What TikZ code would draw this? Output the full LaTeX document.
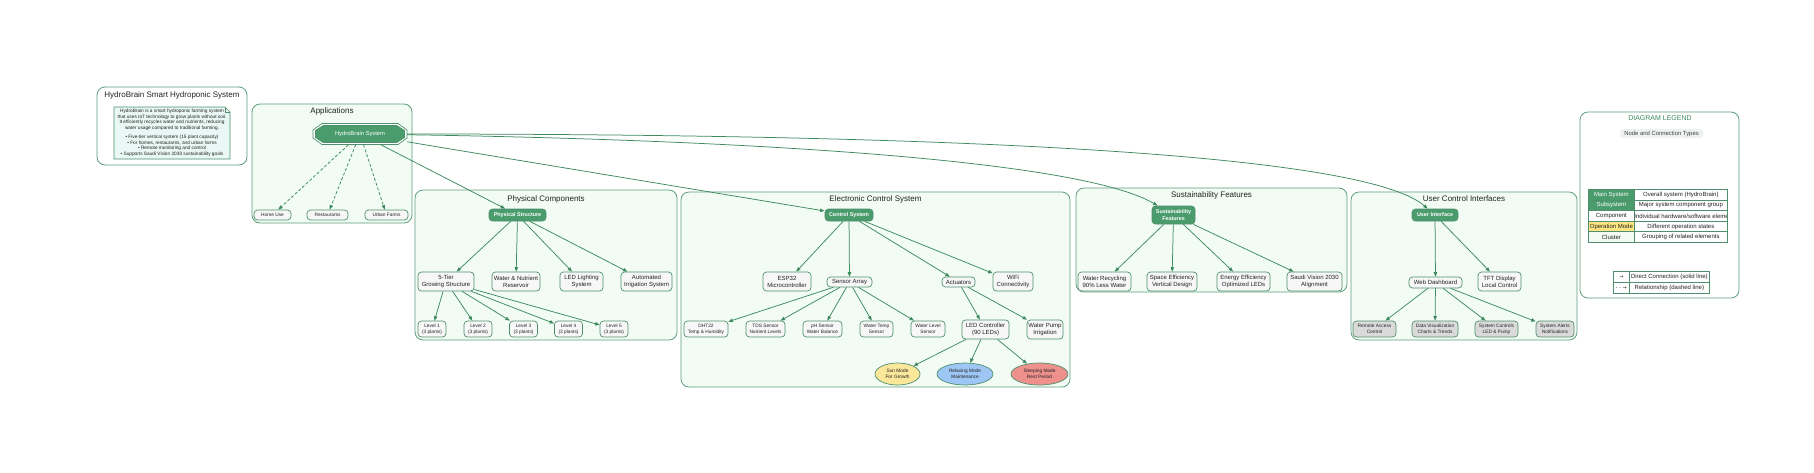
\documentclass[tikz,border=0pt]{standalone}
\usepackage{fontspec}
\setmainfont{Liberation Sans}
\newfontfamily\dejavu{DejaVu Sans}
\usetikzlibrary{shapes.geometric,arrows.meta}
\definecolor{maingreen}{HTML}{4A9C6D}
\definecolor{cborder}{HTML}{5E9E7E}
\definecolor{cfill}{HTML}{F2FCF4}
\definecolor{nborder}{HTML}{4F8F6D}
\definecolor{compfill}{HTML}{F7F7F7}
\definecolor{leafgray}{HTML}{DADADA}
\definecolor{edgecol}{HTML}{3E8A60}
\definecolor{notefill}{HTML}{E9F8F4}
\definecolor{sunfill}{HTML}{FBE79A}
\definecolor{relaxfill}{HTML}{9DC6F4}
\definecolor{sleepfill}{HTML}{EE918D}
\definecolor{opyellow}{HTML}{FFE680}
\definecolor{titlegreen}{HTML}{3E8A60}
\definecolor{subbg}{HTML}{EEF2EF}
\definecolor{txt}{HTML}{222222}
\newcommand\fsz[2]{\fontsize{#1}{#2}\selectfont}
\tikzset{
  sz/.style 2 args={minimum width=#1pt,minimum height=#2pt},
  clusterbox/.style={draw=cborder,fill=cfill,rounded corners=8pt,line width=0.8pt},
  ctitle/.style={font=\fsz{8}{9.6},inner sep=0pt,text=txt},
  compnode/.style={draw=nborder,fill=compfill,rounded corners=3.5pt,line width=0.7pt,align=center,inner sep=0pt,font=\fsz{6}{7},text=txt},
  leafnode/.style={compnode,font=\fsz{4.8}{6}},
  grayleaf/.style={leafnode,fill=leafgray},
  subsys/.style={draw=nborder,fill=maingreen,text=white,rounded corners=3.5pt,line width=0.7pt,align=center,inner sep=0pt,font=\bfseries\fsz{5.4}{6.4}},
  modenode/.style={ellipse,draw=nborder,line width=0.7pt,align=center,inner sep=0pt,font=\fsz{4.8}{6},text=txt},
  conn/.style={draw=edgecol,line width=0.75pt,-{Triangle[length=4.5pt,width=3.4pt]}},
  relconn/.style={conn,dash pattern=on 3pt off 2pt},
  lcell/.style={draw=nborder,line width=0.7pt,inner sep=0pt,anchor=north west,font=\fsz{6}{7},text=txt},
}
\begin{document}
\begin{tikzpicture}[x=1pt,y=-1pt]
\useasboundingbox (0,0) rectangle (1814,472);
\fill[white] (0,0) rectangle (1814,472);

% clusters
\path[clusterbox,fill=white] (97,87) rectangle (247,165);
\path[clusterbox] (252,104) rectangle (412,223);
\path[clusterbox] (415,190) rectangle (677,340);
\path[clusterbox] (681,192) rectangle (1070,387);
\path[clusterbox] (1076,188) rectangle (1347,292);
\path[clusterbox] (1351,192) rectangle (1577,340);
\path[clusterbox,fill=white] (1580,112) rectangle (1739,298);

% titles
\node[ctitle] (t0) at (172,95) {HydroBrain Smart Hydroponic System};
\node[ctitle] (t1) at (332,111) {Applications};
\node[ctitle] (t2) at (546,199) {Physical Components};
\node[ctitle] (t3) at (875.5,199) {Electronic Control System};
\node[ctitle] (t4) at (1211.5,195) {Sustainability Features};
\node[ctitle] (t5) at (1464,199) {User Control Interfaces};

% info note
\path[draw=nborder,fill=notefill,line width=0.6pt] (114,107) -- (225,107) -- (230,112) -- (230,159) -- (114,159) -- cycle;
\draw[nborder,line width=0.6pt] (225,107) -- (225,112) -- (230,112);
\node[align=center,font=\fsz{4.75}{5.6},inner sep=0pt,text=txt] (info) at (172,132.8) {HydroBrain is a smart hydroponic farming system\\that uses IoT technology to grow plants without soil.\\It efficiently recycles water and nutrients, reducing\\water usage compared to traditional farming.\\[3.8pt]
• Five-tier vertical system (15 plant capacity)\\• For homes, restaurants, and urban farms\\• Remote monitoring and control\\• Supports Saudi Vision 2030 sustainability goals};

% HydroBrain system (double octagon)
\coordinate (hbc) at (360,134);
\path[draw=nborder,fill=white,line width=0.7pt] (hbc) ++(-47,-4) -- ++(9,-6.5) -- ++(76,0) -- ++(9,6.5) -- ++(0,8) -- ++(-9,6.5) -- ++(-76,0) -- ++(-9,-6.5) -- cycle;
\path[draw=nborder,fill=maingreen,line width=0.7pt] (hbc) ++(-44.5,-3.5) -- ++(7.7,-5) -- ++(73.6,0) -- ++(7.7,5) -- ++(0,7) -- ++(-7.7,5) -- ++(-73.6,0) -- ++(-7.7,-5) -- cycle;
\node[font=\fsz{5.8}{7},text=white,sz={94}{21},inner sep=0pt] (hb) at (hbc) {HydroBrain System};

% applications
\node[leafnode,sz={37}{10}] (home) at (272.5,215) {Home Use};
\node[leafnode,sz={41}{10}] (rest) at (327.5,215) {Restaurants};
\node[leafnode,sz={43}{10}] (urban) at (386.5,215) {Urban Farms};

% physical
\node[subsys,sz={57}{12}] (ps) at (517.5,215) {Physical Structure};
\node[compnode,sz={56}{19}] (tier) at (446,281.5) {5-Tier\\Growing Structure};
\node[compnode,sz={48}{19}] (res) at (516,281.5) {Water \& Nutrient\\Reservoir};
\node[compnode,sz={43}{19}] (ledsys) at (581.5,281.5) {LED Lighting\\System};
\node[compnode,sz={51}{19}] (irr) at (646.5,281.5) {Automated\\Irrigation System};
\node[leafnode,sz={28}{16}] (lv1) at (432,329) {Level 1\\(3 plants)};
\node[leafnode,sz={28}{16}] (lv2) at (478,329) {Level 2\\(3 plants)};
\node[leafnode,sz={28}{16}] (lv3) at (523.5,329) {Level 3\\(3 plants)};
\node[leafnode,sz={28}{16}] (lv4) at (568.5,329) {Level 4\\(3 plants)};
\node[leafnode,sz={28}{16}] (lv5) at (614,329) {Level 5\\(3 plants)};

% electronic
\node[subsys,sz={48}{12}] (cs) at (849,215) {Control System};
\node[compnode,sz={48}{19}] (esp) at (787,281.5) {ESP32\\Microcontroller};
\node[compnode,sz={45}{10}] (sa) at (849.5,282) {Sensor Array};
\node[compnode,sz={33}{10}] (act) at (958.5,282) {Actuators};
\node[compnode,sz={40}{19}] (wifi) at (1013,281.5) {WiFi\\Connectivity};
\node[leafnode,sz={44}{16}] (dht) at (706,329) {DHT22\\Temp \& Humidity};
\node[leafnode,sz={39}{16}] (tds) at (765.5,329) {TDS Sensor\\Nutrient Levels};
\node[leafnode,sz={39}{16}] (ph) at (822.5,329) {pH Sensor\\Water Balance};
\node[leafnode,sz={33}{16}] (wtemp) at (876.5,329) {Water Temp\\Sensor};
\node[leafnode,sz={34}{16}] (wlevel) at (928,329) {Water Level\\Sensor};
\node[compnode,sz={47}{19}] (ledc) at (985.5,329.5) {LED Controller\\(90 LEDs)};
\node[compnode,sz={36}{19}] (pump) at (1045,329.5) {Water Pump\\Irrigation};
\node[modenode,fill=sunfill,sz={45}{22}] (sun) at (897.5,374) {Sun Mode\\For Growth};
\node[modenode,fill=relaxfill,sz={56}{22}] (relax) at (965,374) {Relaxing Mode\\Maintenance};
\node[modenode,fill=sleepfill,sz={57}{22}] (sleep) at (1039.5,374) {Sleeping Mode\\Rest Period};

% sustainability
\node[subsys,sz={43}{18}] (sf) at (1173.5,215) {Sustainability\\Features};
\node[compnode,sz={53}{19}] (wr) at (1104.5,281.5) {Water Recycling\\90\% Less Water};
\node[compnode,sz={50}{19}] (se) at (1172,281.5) {Space Efficiency\\Vertical Design};
\node[compnode,sz={53}{19}] (ee) at (1243.5,281.5) {Energy Efficiency\\Optimized LEDs};
\node[compnode,sz={55}{19}] (sv) at (1314.5,281.5) {Saudi Vision 2030\\Alignment};

% user interface
\node[subsys,sz={46}{12}] (ui) at (1435,215) {User Interface};
\node[compnode,sz={53}{11}] (wd) at (1435.5,282.5) {Web Dashboard};
\node[compnode,sz={43}{19}] (tft) at (1499.5,281.5) {TFT Display\\Local Control};
\node[grayleaf,sz={43}{16}] (ra) at (1374.5,329) {Remote Access\\Control};
\node[grayleaf,sz={46}{16}] (dv) at (1435,329) {Data Visualization\\Charts \& Trends};
\node[grayleaf,sz={43}{16}] (sc) at (1496.5,329) {System Controls\\LED \& Pump};
\node[grayleaf,sz={38}{16}] (alerts) at (1555,329) {System Alerts\\Notifications};

% edges
\draw[relconn] (hb) -- (home);
\draw[relconn] (hb) -- (rest);
\draw[relconn] (hb) -- (urban);
\draw[conn] (hb) -- (ps);
\draw[conn] (hb) -- (cs);
\draw[conn] (hb) .. controls (750,140) and (1080,160) .. (sf);
\draw[conn] (hb) .. controls (900,134) and (1360,150) .. (ui);

\foreach \t in {tier,res,ledsys,irr} \draw[conn] (ps) -- (\t);
\foreach \t in {lv1,lv2,lv3,lv4,lv5} \draw[conn] (tier) -- (\t);
\foreach \t in {esp,sa,act,wifi} \draw[conn] (cs) -- (\t);
\foreach \t in {dht,tds,ph,wtemp,wlevel} \draw[conn] (sa) -- (\t);
\foreach \t in {ledc,pump} \draw[conn] (act) -- (\t);
\foreach \t in {sun,relax,sleep} \draw[conn] (ledc) -- (\t);
\foreach \t in {wr,se,ee,sv} \draw[conn] (sf) -- (\t);
\foreach \t in {wd,tft} \draw[conn] (ui) -- (\t);
\foreach \t in {ra,dv,sc,alerts} \draw[conn] (wd) -- (\t);

% legend
\node[font=\fsz{7}{8},text=titlegreen,inner sep=0pt] (lt) at (1660,118) {DIAGRAM LEGEND};
\node[fill=subbg,rounded corners=3pt,font=\fsz{5.9}{7},text=txt!85,sz={83}{9},inner sep=0pt] (lsub) at (1661.5,133.5) {Node and Connection Types};

\node[lcell,fill=maingreen,text=white,sz={46}{10.6}] (l1a) at (1588,189) {Main System};
\node[lcell,fill=maingreen,text=white,sz={46}{10.6}] (l2a) at (1588,199.6) {Subsystem};
\node[lcell,fill=white,sz={46}{10.6}] (l3a) at (1588,210.2) {Component};
\node[lcell,fill=opyellow,sz={46}{10.6}] (l4a) at (1588,220.8) {Operation Mode};
\node[lcell,fill=cfill,sz={46}{10.6}] (l5a) at (1588,231.4) {Cluster};
\begin{scope}
\clip (1634,188) rectangle (1727,243);
\node[lcell,sz={93}{10.6}] (l1b) at (1634,189) {Overall system (HydroBrain)};
\node[lcell,sz={93}{10.6}] (l2b) at (1634,199.6) {Major system component group};
\node[lcell,sz={93}{10.6}] (l3b) at (1634,210.2) {Individual hardware/software element};
\node[lcell,sz={93}{10.6}] (l4b) at (1634,220.8) {Different operation states};
\node[lcell,sz={93}{10.6}] (l5b) at (1634,231.4) {Grouping of related elements};
\end{scope}
\draw[nborder,line width=0.7pt] (1588,189) rectangle (1727,242);

\node[lcell,sz={16}{11},font=\dejavu\fsz{5}{6}] (l6a) at (1613,271) {→};
\node[lcell,sz={80}{11}] (l6b) at (1629,271) {Direct Connection (solid line)};
\node[lcell,sz={16}{11},font=\dejavu\fsz{5}{6}] (l7a) at (1613,282) {- - →};
\node[lcell,sz={80}{11}] (l7b) at (1629,282) {Relationship (dashed line)};
\end{tikzpicture}
\end{document}
